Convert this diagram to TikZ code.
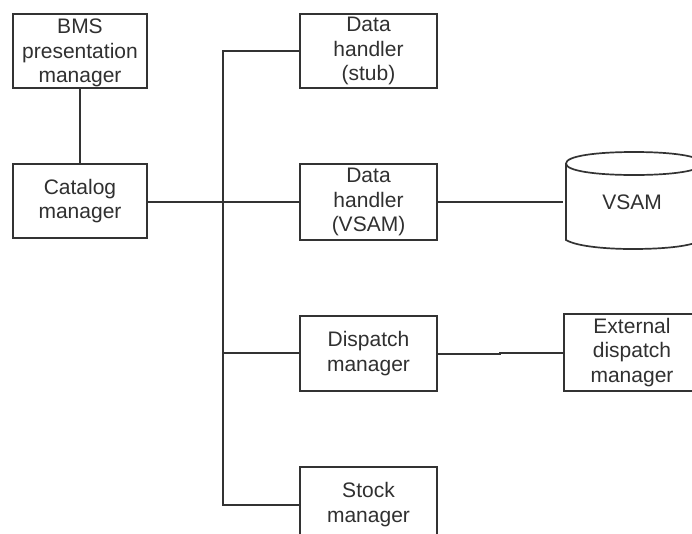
\documentclass[tikz,border=0pt]{standalone}
\usepackage{fontspec}
\setmainfont{Liberation Sans}
\definecolor{inkline}{HTML}{333333}
\definecolor{inktext}{HTML}{303030}
\tikzset{
  every node/.style={font=\fontsize{21}{24.5}\selectfont, text=inktext},
  boxnode/.style={draw=inkline, line width=1.7pt, fill=white, align=center, inner sep=0pt,
    minimum width=134pt, minimum height=74pt, anchor=center},
  wirepath/.style={draw=inkline, line width=1.7pt},
}
\begin{document}
\begin{tikzpicture}[x=1pt,y=-1pt]
\useasboundingbox (0,0) rectangle (692,533);
\clip (0,0) rectangle (692,533);
\fill[white] (0,0) rectangle (692,533);
% wires
\coordinate (trunkTop) at (223,51);
\coordinate (trunkBot) at (223,505);
\coordinate (dispY) at (223,353);
\coordinate (jogA) at (500,354);
\coordinate (jogB) at (500,353);
\node[boxnode] (bms) at (80,51) {\rule{0pt}{19pt}BMS\\presentation\\manager};
\node[boxnode] (cat) at (80,201) {Catalog\\manager};
\node[boxnode, minimum width=137pt] (stub) at (368.5,51) {Data\\handler\\(stub)};
\node[boxnode, minimum width=137pt, minimum height=76pt] (dvsam) at (368.5,202) {Data\\handler\\(VSAM)};
\node[boxnode, minimum width=137pt, minimum height=75pt] (disp) at (368.5,353.5) {Dispatch\\manager};
\node[boxnode, minimum width=137pt, minimum height=75pt] (stock) at (368.5,504.5) {Stock\\manager};
\node[boxnode, minimum width=136pt, minimum height=77pt] (ext) at (632,352.5) {External\\dispatch\\manager};
% cylinder
\draw[wirepath] (566,163) -- (566,240) .. controls (578,247) and (610,249) .. (632,249)
  .. controls (660,249) and (690,247) .. (702,240) -- (702,163);
\draw[wirepath] (634,152) .. controls (596,152) and (566,156) .. (566,163.5)
  .. controls (566,171) and (596,175) .. (634,175)
  .. controls (672,175) and (702,171) .. (702,163.5)
  .. controls (702,156) and (672,152) .. (634,152) -- cycle;
\node[inner sep=0pt, minimum width=138pt, minimum height=40pt] (cyl) at (632,202) {VSAM};
% connectors
\draw[wirepath] (bms) -- (cat);
\draw[wirepath] (stub.west) -- (trunkTop) -- (trunkBot) -- (stock.west |- trunkBot);
\draw[wirepath] (cat.east |- dvsam.west) -- (dvsam.west);
\draw[wirepath] (dispY) -- (disp.west |- dispY);
\draw[wirepath] (dvsam.east) -- (cyl.west);
\draw[wirepath] (disp.east |- jogA) -- (jogA) -- (jogB) -- (ext.west |- jogB);
\end{tikzpicture}
\end{document}
